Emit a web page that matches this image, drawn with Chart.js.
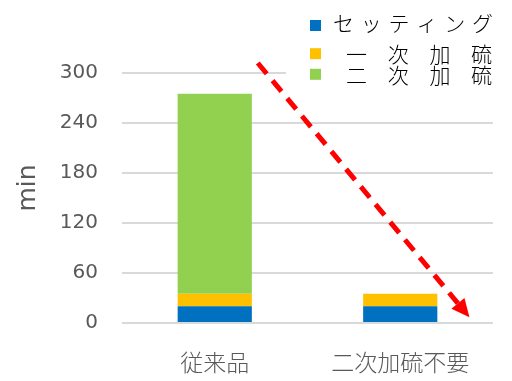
<!DOCTYPE html>
<html>
<head>
<meta charset="utf-8">
<script src="https://cdn.jsdelivr.net/npm/chart.js@4/dist/chart.umd.min.js"></script>
<style>
html,body{margin:0;padding:0;background:#fff;}
#wrap{position:relative;width:512px;height:381px;}
</style>
</head>
<body>
<div id="wrap"><canvas id="c" width="512" height="381"></canvas></div>
<script>
// ---- data ----
const categories = ['従来品', '二次加硫不要'];
const seriesNames = ['セッティング', '一次加硫', '二次加硫'];
const setting = [20, 20];
const primaryCure = [15, 15];
const secondaryCure = [240, 0];
const yTicks = [0, 60, 120, 180, 240, 300];
const axisTitle = 'min';
// arrow annotation in data units: [categoryIndex, value]
const arrowFrom = [0.232, 312];
const arrowTo = [1.373, 7];

const colors = ['#0070C0', '#FFC000', '#92D050'];
const tickFont = "'DejaVu Sans', 'Noto Sans CJK JP', sans-serif";
const cjkFont = "'Noto Sans CJK JP', sans-serif";

const legendPlugin = {
  id: 'customLegend',
  afterDraw(chart) {
    const ctx = chart.ctx;
    ctx.save();
    ctx.fillStyle = '#fff';
    ctx.fillRect(286, 0, 226, 86);
    const rows = [
      {sq: 25.5, ty: 23, tx: 333, ls: 6.8},
      {sq: 53.7, ty: 54, tx: 346, ls: 20.7},
      {sq: 74.3, ty: 75, tx: 346, ls: 20.7}
    ];
    chart.data.datasets.forEach((ds, i) => {
      const r = rows[i];
      ctx.fillStyle = ds.backgroundColor;
      ctx.fillRect(310, r.sq - 5.5, 11, 11);
      ctx.fillStyle = '#000';
      ctx.font = '300 21px ' + cjkFont;
      ctx.textBaseline = 'middle';
      ctx.textAlign = 'left';
      ctx.letterSpacing = r.ls + 'px';
      ctx.fillText(ds.label, r.tx, r.ty);
    });
    ctx.restore();
  }
};

const extrasPlugin = {
  id: 'extras',
  afterDatasetsDraw(chart) {
    const ctx = chart.ctx;
    const xs = chart.scales.x, ys = chart.scales.y;
    const px = v => xs.getPixelForValue(0) + v * (xs.getPixelForValue(1) - xs.getPixelForValue(0));
    const x1 = px(arrowFrom[0]), y1 = ys.getPixelForValue(arrowFrom[1]);
    const x2 = px(arrowTo[0]), y2 = ys.getPixelForValue(arrowTo[1]);
    const dx = x2 - x1, dy = y2 - y1, len = Math.hypot(dx, dy);
    const ux = dx / len, uy = dy / len;
    const headLen = 18, headW = 8.5;
    const bx = x2 - ux * headLen, by = y2 - uy * headLen;
    ctx.save();
    ctx.strokeStyle = '#FF0000';
    ctx.lineWidth = 5;
    ctx.setLineDash([14, 9]);
    ctx.beginPath();
    ctx.moveTo(x1, y1);
    ctx.lineTo(bx, by);
    ctx.stroke();
    ctx.setLineDash([]);
    ctx.fillStyle = '#FF0000';
    ctx.beginPath();
    ctx.moveTo(x2, y2);
    ctx.lineTo(bx - uy * headW, by + ux * headW);
    ctx.lineTo(bx + uy * headW, by - ux * headW);
    ctx.closePath();
    ctx.fill();
    // axis title
    ctx.translate(28, 188);
    ctx.rotate(-Math.PI / 2);
    ctx.fillStyle = '#595959';
    ctx.font = '25px ' + tickFont;
    ctx.textAlign = 'center';
    ctx.textBaseline = 'middle';
    ctx.fillText(axisTitle, 0, 0);
    ctx.restore();
  }
};

new Chart(document.getElementById('c'), {
  type: 'bar',
  data: {
    labels: categories,
    datasets: [
      {label: seriesNames[0], data: setting, backgroundColor: colors[0]},
      {label: seriesNames[1], data: primaryCure, backgroundColor: colors[1]},
      {label: seriesNames[2], data: secondaryCure, backgroundColor: colors[2]}
    ]
  },
  options: {
    responsive: false,
    animation: false,
    devicePixelRatio: 1,
    layout: {padding: {top: 73, right: 19, left: 0, bottom: 0}},
    datasets: {bar: {barPercentage: 0.4, categoryPercentage: 1, borderWidth: 0}},
    plugins: {legend: {display: false}, tooltip: {enabled: false}},
    scales: {
      x: {
        stacked: true,
        grid: {display: false},
        border: {display: false},
        ticks: {color: '#595959', font: {family: cjkFont, size: 23, weight: '300'}, padding: 17, maxRotation: 0},
        afterFit(s) { s.height = 58; }
      },
      y: {
        stacked: true,
        min: 0, max: 300,
        afterBuildTicks(s) { s.ticks = yTicks.map(v => ({value: v})); },
        grid: {color: '#d9d9d9', lineWidth: 2, drawTicks: false},
        border: {display: false},
        ticks: {color: '#595959', font: {family: tickFont, size: 20}, padding: 24},
        afterFit(s) { s.width = 122; }
      }
    }
  },
  plugins: [extrasPlugin, legendPlugin]
});
</script>
</body>
</html>
